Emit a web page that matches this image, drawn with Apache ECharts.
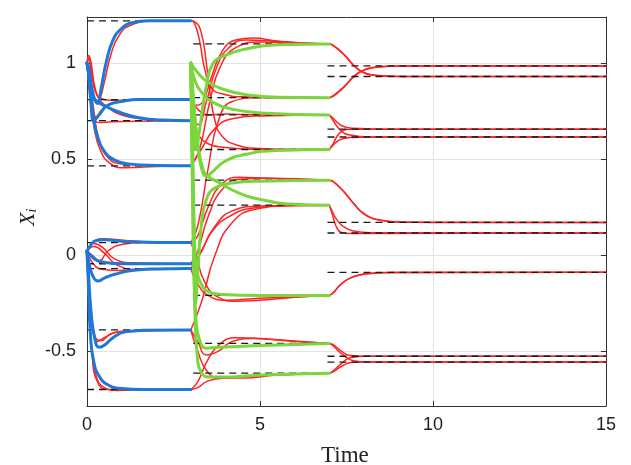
<!DOCTYPE html>
<html>
<head>
<meta charset="utf-8">
<script src="https://cdn.jsdelivr.net/npm/echarts@6/dist/echarts.min.js"></script>
<style>html,body{margin:0;padding:0;background:#fff}#c{width:631px;height:465px}</style>
</head>
<body>
<div id="c"></div>
<script>
// ---------------- DATA ----------------
const xTicks = [0, 5, 10, 15];
const yTicks = [-0.5, 0, 0.5, 1];
const phaseTimes = [0, 3, 7, 15];

// dashed reference levels per phase
const targets1 = [1.22, 0.81, 0.70, 0.465, 0.065, -0.045, -0.07, -0.39, -0.70];
const targets2 = [1.10, 0.82, 0.73, 0.55, 0.39, 0.26, -0.21, -0.46, -0.615];
const targets3 = [0.985, 0.93, 0.656, 0.615, 0.17, 0.115, -0.09, -0.527, -0.557];

// phase 1 (blue) trajectories
const blue1 = [
  [[0,1.0],[0.05,0.98],[0.15,0.86],[0.3,0.79],[0.42,0.88],[0.55,1.0],[0.75,1.12],[1.0,1.18],[1.3,1.21],[1.8,1.22],[3,1.22]],
  [[0,1.0],[0.05,0.95],[0.12,0.78],[0.2,0.70],[0.35,0.73],[0.6,0.78],[1.0,0.80],[1.5,0.81],[3,0.81]],
  [[0,1.0],[0.06,0.93],[0.12,0.84],[0.3,0.80],[0.6,0.77],[1.0,0.74],[1.5,0.715],[2.2,0.703],[3,0.70]],
  [[0,1.0],[0.08,0.9],[0.18,0.72],[0.3,0.62],[0.5,0.54],[0.8,0.495],[1.2,0.475],[2,0.467],[3,0.465]],
  [[0,0.02],[0.1,0.05],[0.25,0.075],[0.5,0.08],[1,0.072],[2,0.066],[3,0.065]],
  [[0,0.02],[0.15,-0.01],[0.4,-0.035],[1,-0.045],[3,-0.045]],
  [[0,0.02],[0.08,-0.06],[0.2,-0.12],[0.32,-0.135],[0.5,-0.12],[0.8,-0.1],[1.3,-0.08],[2,-0.072],[3,-0.07]],
  [[0,0.02],[0.05,-0.12],[0.12,-0.3],[0.22,-0.43],[0.35,-0.48],[0.5,-0.47],[0.75,-0.43],[1.1,-0.40],[1.6,-0.392],[3,-0.39]],
  [[0,0.02],[0.04,-0.15],[0.1,-0.42],[0.2,-0.56],[0.35,-0.63],[0.6,-0.675],[1,-0.695],[1.6,-0.70],[3,-0.70]]
];

// phase 2 (green) trajectories
const green2 = [
  [[3,1.0],[3.05,0.75],[3.1,0.6],[3.15,0.55],[3.25,0.65],[3.45,0.88],[3.65,1.0],[4,1.04],[4.5,1.07],[5.5,1.095],[7,1.10]],
  [[3,1.0],[3.2,0.95],[3.5,0.9],[4.0,0.86],[4.6,0.835],[5.5,0.822],[7,0.82]],
  [[3,1.0],[3.1,0.92],[3.3,0.85],[3.7,0.79],[4.2,0.76],[5,0.74],[7,0.73]],
  [[3,1.0],[3.08,0.8],[3.18,0.6],[3.3,0.46],[3.45,0.41],[3.6,0.43],[4,0.49],[4.6,0.525],[5.5,0.545],[7,0.55]],
  [[3,1.0],[3.05,0.6],[3.1,0.1],[3.14,-0.25],[3.2,-0.1],[3.3,0.15],[3.45,0.29],[3.7,0.35],[4.2,0.375],[5,0.385],[7,0.39]],
  [[3,1.0],[3.08,0.8],[3.2,0.58],[3.35,0.45],[3.5,0.41],[3.8,0.38],[4.3,0.33],[5,0.29],[6,0.265],[7,0.26]],
  [[3,1.0],[3.05,0.5],[3.1,0.1],[3.17,-0.07],[3.3,-0.15],[3.5,-0.19],[3.9,-0.205],[5,-0.21],[7,-0.21]],
  [[3,1.0],[3.05,0.4],[3.1,-0.1],[3.15,-0.33],[3.25,-0.44],[3.45,-0.485],[3.8,-0.48],[4.5,-0.475],[5.5,-0.468],[7,-0.46]],
  [[3,1.0],[3.05,0.3],[3.12,-0.3],[3.2,-0.55],[3.3,-0.61],[3.5,-0.635],[3.9,-0.635],[5,-0.625],[7,-0.615]]
];

// red trajectories, phase 1
const red1 = [
  [[0,1.0],[0.05,1.04],[0.12,1.0],[0.22,0.88],[0.35,0.82],[0.5,0.9],[0.7,1.05],[0.95,1.15],[1.3,1.2],[2,1.22],[3,1.22]],
  [[0,1.0],[0.06,1.03],[0.15,0.93],[0.3,0.83],[0.5,0.81],[0.8,0.805],[1.5,0.81],[3,0.81]],
  [[0,1.0],[0.08,0.9],[0.15,0.76],[0.25,0.72],[0.45,0.76],[0.8,0.795],[1.5,0.808],[3,0.81]],
  [[0,1.0],[0.05,1.02],[0.15,0.92],[0.3,0.83],[0.6,0.77],[1,0.73],[1.6,0.71],[3,0.70]],
  [[0,1.0],[0.1,0.8],[0.2,0.71],[0.35,0.69],[0.7,0.695],[3,0.70]],
  [[0,1.0],[0.1,0.82],[0.22,0.65],[0.4,0.54],[0.65,0.48],[1,0.455],[1.5,0.458],[2.2,0.463],[3,0.465]],
  [[0,1.0],[0.06,0.95],[0.2,0.75],[0.35,0.6],[0.6,0.51],[1,0.475],[3,0.465]],
  [[0,0.02],[0.15,0.0],[0.35,-0.03],[0.6,0.02],[1,0.055],[1.6,0.065],[3,0.065]],
  [[0,0.02],[0.2,0.07],[0.45,0.085],[0.9,0.08],[1.6,0.07],[3,0.066]],
  [[0,0.02],[0.2,0.06],[0.45,0.04],[0.8,-0.02],[1.3,-0.04],[3,-0.045]],
  [[0,0.02],[0.25,-0.06],[0.5,-0.075],[0.9,-0.08],[1.6,-0.075],[3,-0.07]],
  [[0,0.02],[0.2,0.045],[0.5,0.01],[0.9,-0.055],[1.5,-0.075],[3,-0.07]],
  [[0,0.02],[0.08,-0.2],[0.18,-0.4],[0.3,-0.45],[0.5,-0.43],[0.9,-0.40],[3,-0.39]],
  [[0,0.02],[0.1,-0.25],[0.22,-0.42],[0.4,-0.445],[0.7,-0.41],[1.2,-0.395],[3,-0.39]],
  [[0,0.02],[0.05,-0.2],[0.12,-0.45],[0.25,-0.62],[0.5,-0.69],[0.9,-0.705],[1.5,-0.70],[3,-0.70]],
  [[0,0.02],[0.06,-0.25],[0.15,-0.52],[0.3,-0.66],[0.6,-0.70],[3,-0.70]]
];

// red trajectories, phase 2
const red2 = [
  [[3,1.22],[3.12,1.215],[3.3,1.16],[3.45,1.0],[3.55,0.85],[3.7,0.7],[3.9,0.62],[4.3,0.575],[5,0.555],[6,0.55],[7,0.55]],
  [[3,1.22],[3.1,1.21],[3.25,1.12],[3.4,0.97],[3.6,0.87],[3.9,0.84],[4.5,0.825],[7,0.82]],
  [[3,0.81],[3.15,0.78],[3.35,0.8],[3.6,0.93],[3.9,1.06],[4.3,1.12],[4.8,1.13],[5.5,1.115],[6.3,1.103],[7,1.10]],
  [[3,0.81],[3.2,0.76],[3.5,0.73],[4,0.735],[5,0.73],[7,0.73]],
  [[3,0.70],[3.2,0.68],[3.45,0.8],[3.75,0.98],[4.1,1.08],[4.6,1.12],[5.3,1.115],[6.2,1.105],[7,1.10]],
  [[3,0.70],[3.2,0.63],[3.5,0.58],[4,0.56],[5,0.55],[7,0.55]],
  [[3,0.465],[3.25,0.55],[3.55,0.8],[3.85,0.98],[4.3,1.08],[5,1.11],[6,1.105],[7,1.10]],
  [[3,0.465],[3.3,0.55],[3.7,0.66],[4.2,0.71],[5,0.725],[7,0.73]],
  [[3,0.065],[3.2,0.15],[3.5,0.45],[3.8,0.7],[4.2,0.8],[5,0.82],[7,0.82]],
  [[3,0.065],[3.2,0.1],[3.5,0.25],[3.9,0.37],[4.4,0.405],[5.2,0.4],[7,0.39]],
  [[3,0.065],[3.15,0.0],[3.4,-0.14],[3.8,-0.22],[4.3,-0.24],[5,-0.235],[6,-0.22],[7,-0.21]],
  [[3,-0.045],[3.2,0.02],[3.5,0.2],[3.9,0.34],[4.4,0.395],[5.2,0.4],[7,0.39]],
  [[3,-0.045],[3.25,0.0],[3.6,0.12],[4.1,0.2],[4.8,0.245],[5.8,0.258],[7,0.26]],
  [[3,-0.07],[3.2,-0.15],[3.5,-0.21],[4,-0.235],[5,-0.225],[7,-0.21]],
  [[3,-0.07],[3.3,0.02],[3.7,0.15],[4.2,0.23],[5,0.255],[7,0.26]],
  [[3,-0.39],[3.2,-0.45],[3.45,-0.52],[3.8,-0.5],[4.2,-0.45],[4.8,-0.435],[5.8,-0.445],[7,-0.46]],
  [[3,-0.39],[3.2,-0.5],[3.45,-0.6],[3.8,-0.64],[4.5,-0.64],[5.5,-0.625],[7,-0.615]],
  [[3,-0.39],[3.3,-0.25],[3.7,0.0],[4.2,0.17],[4.9,0.24],[6,0.258],[7,0.26]],
  [[3,-0.70],[3.2,-0.66],[3.45,-0.56],[3.8,-0.47],[4.3,-0.43],[5,-0.435],[6,-0.45],[7,-0.46]],
  [[3,-0.70],[3.2,-0.69],[3.5,-0.655],[4,-0.64],[5,-0.628],[7,-0.615]]
];

// red trajectories, phase 3
const red3 = [
  [[7,1.10],[7.1,1.095],[7.4,1.05],[7.7,0.99],[7.95,0.955],[8.3,0.937],[9,0.93],[15,0.93]],
  [[7,1.10],[7.12,1.09],[7.45,1.04],[7.75,0.98],[8,0.95],[8.4,0.935],[9.2,0.93],[15,0.93]],
  [[7,0.82],[7.1,0.825],[7.4,0.87],[7.7,0.93],[7.95,0.96],[8.3,0.978],[9,0.985],[15,0.985]],
  [[7,0.82],[7.12,0.83],[7.45,0.88],[7.75,0.935],[8,0.963],[8.4,0.98],[9.2,0.985],[15,0.985]],
  [[7,0.73],[7.1,0.705],[7.3,0.655],[7.6,0.625],[8.2,0.615],[15,0.615]],
  [[7,0.73],[7.1,0.715],[7.35,0.675],[7.7,0.66],[8.5,0.656],[15,0.656]],
  [[7,0.55],[7.1,0.575],[7.3,0.635],[7.6,0.655],[8.3,0.656],[15,0.656]],
  [[7,0.55],[7.1,0.57],[7.3,0.6],[7.6,0.613],[8.3,0.615],[15,0.615]],
  [[7,0.39],[7.1,0.385],[7.4,0.335],[7.7,0.27],[8,0.215],[8.4,0.185],[9,0.172],[10,0.17],[15,0.17]],
  [[7,0.39],[7.12,0.382],[7.45,0.325],[7.75,0.26],[8.05,0.21],[8.5,0.18],[9.2,0.171],[15,0.17]],
  [[7,0.26],[7.08,0.22],[7.2,0.15],[7.35,0.118],[7.6,0.113],[15,0.115]],
  [[7,0.26],[7.08,0.23],[7.2,0.19],[7.4,0.15],[7.7,0.125],[8.2,0.116],[15,0.115]],
  [[7,-0.21],[7.1,-0.2],[7.3,-0.16],[7.6,-0.12],[8,-0.1],[8.6,-0.092],[15,-0.09]],
  [[7,-0.21],[7.12,-0.195],[7.35,-0.15],[7.7,-0.112],[8.2,-0.095],[9,-0.09],[15,-0.09]],
  [[7,-0.46],[7.1,-0.465],[7.35,-0.5],[7.6,-0.523],[8,-0.527],[15,-0.527]],
  [[7,-0.46],[7.1,-0.47],[7.4,-0.52],[7.7,-0.55],[8.1,-0.557],[15,-0.557]],
  [[7,-0.615],[7.1,-0.605],[7.35,-0.565],[7.6,-0.535],[8,-0.527],[15,-0.527]],
  [[7,-0.615],[7.1,-0.61],[7.4,-0.575],[7.7,-0.558],[8.2,-0.557],[15,-0.557]]
];

// dashed line start offsets per phase (time)
const dashStart = [0, 3.07, 6.95];

// ---------------- CHART ----------------
const RED = '#ff2424', BLUE = '#1f78d8', GREEN = '#7bd63e';
const chart = echarts.init(document.getElementById('c'), null, {renderer: 'canvas'});
const series = [];
function addLines(list, color, width, z) {
  list.forEach(d => series.push({
    type: 'line', data: d, symbol: 'none', smooth: 0.5,
    lineStyle: {color: color, width: width, cap: 'round', join: 'round'}, z: z, silent: true
  }));
}
addLines(red1, RED, 1.5, 2);
addLines(red2, RED, 1.5, 2);
addLines(red3, RED, 1.5, 2);
[targets1, targets2, targets3].forEach((tg, p) => {
  tg.forEach(v => series.push({
    type: 'line', data: [[dashStart[p], v], [phaseTimes[p + 1], v]], symbol: 'none',
    lineStyle: {color: '#1a1a1a', width: 1.3, type: [7, 5]}, z: 3, silent: true
  }));
});
addLines(blue1, BLUE, 3, 4);
addLines(green2, GREEN, 3, 4);

const axisCol = '#333';
const isTick = v => yTicks.some(t => Math.abs(t - v) < 1e-6);
chart.setOption({
  animation: false,
  backgroundColor: '#fff',
  grid: {left: 87, right: 25, top: 17, bottom: 59, containLabel: false},
  xAxis: [{
    type: 'value', min: 0, max: 15, interval: 5, position: 'bottom',
    axisLine: {show: true, onZero: false, lineStyle: {color: axisCol, width: 1}},
    axisTick: {show: true, inside: true, length: 5, lineStyle: {color: axisCol}},
    axisLabel: {fontSize: 18, color: '#222', margin: 10, fontFamily: 'Liberation Sans',
      formatter: v => xTicks.includes(v) ? String(v) : ''},
    splitLine: {show: true, lineStyle: {color: '#e2e2e2', width: 1}}
  }, {
    type: 'value', min: 0, max: 15, interval: 5, position: 'top',
    axisLine: {show: true, onZero: false, lineStyle: {color: axisCol, width: 1}},
    axisTick: {show: true, inside: true, length: 5, lineStyle: {color: axisCol}},
    axisLabel: {show: false}, splitLine: {show: false}
  }],
  yAxis: [{
    type: 'value', min: -0.786, max: 1.24, splitNumber: 4, position: 'left',
    axisLine: {show: true, onZero: false, lineStyle: {color: axisCol, width: 1}},
    axisTick: {show: true, inside: true, length: 5, lineStyle: {color: axisCol}},
    axisLabel: {fontSize: 18, color: '#222', margin: 11, fontFamily: 'Liberation Sans',
      formatter: v => isTick(v) ? String(v) : ''},
    splitLine: {show: true, lineStyle: {color: '#e2e2e2', width: 1}}
  }, {
    type: 'value', min: -0.786, max: 1.24, splitNumber: 4, position: 'right',
    axisLine: {show: true, onZero: false, lineStyle: {color: axisCol, width: 1}},
    axisTick: {show: true, inside: true, length: 5, lineStyle: {color: axisCol}},
    axisLabel: {show: false}, splitLine: {show: false}
  }],
  graphic: [{
    type: 'text', left: 321, top: 444,
    style: {text: 'Time', font: '23px "Liberation Serif"', fill: '#222'}
  }, {
    type: 'text', x: 17, y: 226, rotation: Math.PI / 2,
    style: {
      text: '{a|X}{b|i}', fill: '#222',
      rich: {
        a: {fontFamily: 'Liberation Serif', fontStyle: 'italic', fontSize: 22, fill: '#222'},
        b: {fontFamily: 'Liberation Serif', fontStyle: 'italic', fontSize: 14, fill: '#222', padding: [8, 0, 0, 0]}
      }
    }
  }],
  series: series
});
</script>
</body>
</html>
